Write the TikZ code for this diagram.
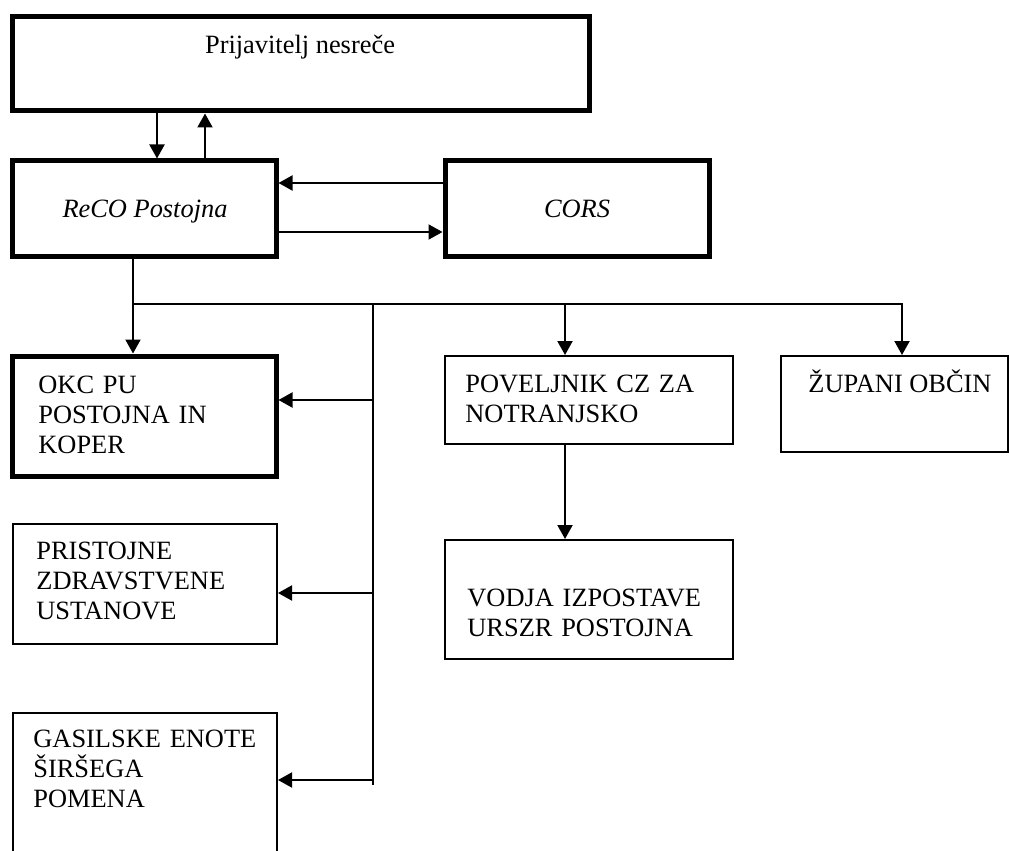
\documentclass[tikz,border=0pt]{standalone}
\usepackage{fontspec}
\setmainfont{Liberation Serif}
\usetikzlibrary{arrows.meta}
\begin{document}
\begin{tikzpicture}[x=0.5pt,y=-0.5pt,
  thickbox/.style={draw, line width=2.5pt, inner sep=0pt},
  thinbox/.style={draw, line width=1pt, inner sep=0pt},
  txt/.style={font=\fontsize{13.2}{15}\selectfont, inner sep=0pt},
  mtxt/.style={txt, anchor=base west, text width=140pt, align=left},
  conn/.style={line width=1pt},
  arr/.style={conn, -{Triangle[length=7pt,width=7.5pt]}}]
\useasboundingbox (0,0) rectangle (1010,850);
\clip (0,0) rectangle (1010,850);

% boxes
\node[thickbox, minimum width=288.25pt, minimum height=47.25pt] (top) at (300.75,63.75) {};
\node[thickbox, minimum width=131.75pt, minimum height=47.5pt] (reco) at (144.25,208.5) {};
\node[thickbox, minimum width=132pt, minimum height=47.5pt] (cors) at (577,208.5) {};
\node[thickbox, minimum width=131.75pt, minimum height=60pt] (okc) at (144.25,416) {};
\node[thinbox, minimum width=132pt, minimum height=60pt] (pri) at (145,584) {};
\node[thinbox, minimum width=132pt, minimum height=93.5pt] (gas) at (145,806.5) {};
\node[thinbox, minimum width=144pt, minimum height=44pt] (pov) at (589,400) {};
\node[thinbox, minimum width=144pt, minimum height=59.5pt] (vodja) at (589,599.5) {};
\node[thinbox, minimum width=113.5pt, minimum height=48pt] (zup) at (894.5,404) {};

% texts
\node[txt, anchor=base] (ttop) at (300,54) {Prijavitelj nesreče};
\node[txt, anchor=base] (treco) at (145,217) {\itshape ReCO Postojna};
\node[txt, anchor=base] (tcors) at (577,217) {\itshape CORS};
\node[mtxt] (tokc) at (38,393) {OKC PU\\POSTOJNA IN\\KOPER};
\node[mtxt] (tpri) at (36,559) {PRISTOJNE\\ZDRAVSTVENE\\USTANOVE};
\node[mtxt] (tgas) at (33,747) {GASILSKE ENOTE\\ŠIRŠEGA\\POMENA};
\node[mtxt] (tpov) at (465,392) {POVELJNIK CZ ZA\\NOTRANJSKO};
\node[mtxt] (tvod) at (467,606) {VODJA IZPOSTAVE\\URSZR POSTOJNA};
\node[txt, anchor=base] (tzup) at (900,392) {ŽUPANI OBČIN};

% helper coordinates
\coordinate (xa) at (157,0);
\coordinate (xb) at (205,0);
\coordinate (xc) at (133,0);
\coordinate (xbus) at (373,0);
\coordinate (xp) at (565,0);
\coordinate (xz) at (902,0);
\coordinate (ya) at (0,183);
\coordinate (yb) at (0,232);
\coordinate (ybus) at (0,304);
\coordinate (y1) at (0,400);
\coordinate (y2) at (0,593);
\coordinate (y3) at (0,780);
\coordinate (busend) at (373,785);

% connectors
\draw[arr] (xa |- top.south) -- (xa |- reco.north);
\draw[arr] (xb |- reco.north) -- (xb |- top.south);
\draw[arr] (cors.west |- ya) -- (reco.east |- ya);
\draw[arr] (reco.east |- yb) -- (cors.west |- yb);
\draw[arr] (xc |- reco.south) -- (xc |- okc.north);
\draw[arr] (xc |- ybus) -| (xz |- zup.north);
\draw[arr] (xp |- ybus) -- (xp |- pov.north);
\draw[conn] (xbus |- ybus) -- (busend);
\draw[arr] (xbus |- y1) -- (okc.east |- y1);
\draw[arr] (xbus |- y2) -- (pri.east |- y2);
\draw[arr] (xbus |- y3) -- (gas.east |- y3);
\draw[arr] (xp |- pov.south) -- (xp |- vodja.north);
\end{tikzpicture}
\end{document}
